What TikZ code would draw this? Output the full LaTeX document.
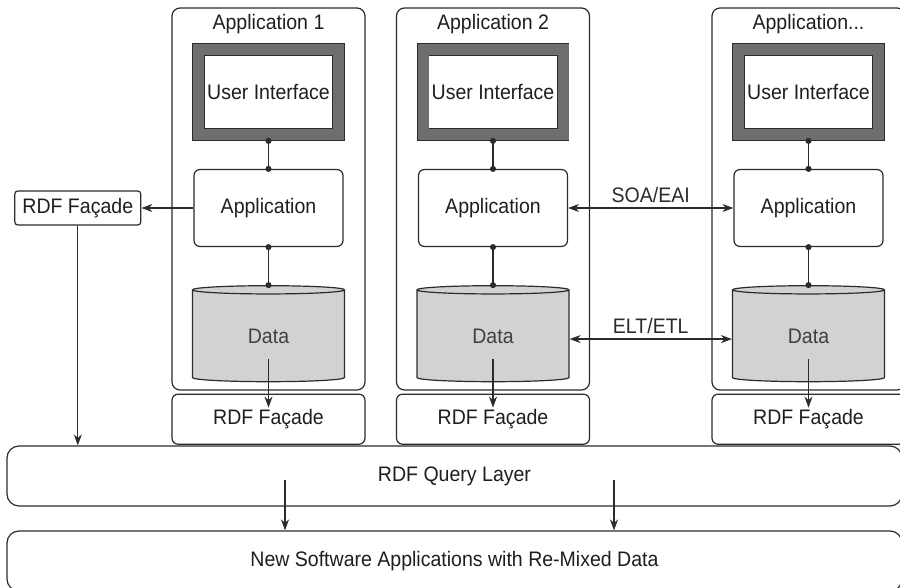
\documentclass[tikz,border=0pt]{standalone}
\usepackage{fontspec}
\setmainfont[FakeStretch=0.93]{Liberation Sans}
\usetikzlibrary{arrows.meta, positioning, shapes.geometric}
\definecolor{linea}{HTML}{2B2B2B}
\definecolor{marco}{HTML}{6E6E6E}
\definecolor{datos}{HTML}{D2D2D2}
\definecolor{texto}{HTML}{1E1E1E}

\begin{document}
\begin{tikzpicture}[
  x=1pt, y=-1pt,
  font=\fontsize{21}{24}\selectfont, text=texto,
  appbox/.style={rectangle, rounded corners=8pt, draw=linea, line width=1.2pt,
                 minimum width=193pt, minimum height=382pt, inner sep=0pt},
  apptitle/.style={inner sep=0pt},
  ui/.style={rectangle, draw=linea, line width=0.9pt, double=marco, double distance=11pt,
             fill=white, minimum width=140pt, minimum height=85pt, inner sep=0pt, outer sep=6.4pt},
  appl/.style={rectangle, rounded corners=6pt, draw=linea, line width=1.2pt,
               minimum width=149pt, minimum height=77pt, inner sep=0pt},
  datastore/.style={cylinder, shape border rotate=90, aspect=0.2, draw=linea, line width=1.2pt,
                    fill=datos, minimum width=152pt, minimum height=96pt, inner sep=0pt,
                    text=texto!85},
  facade/.style={rectangle, rounded corners=6pt, draw=linea, line width=1.2pt,
                 minimum width=193pt, minimum height=50pt, inner sep=0pt},
  facadesm/.style={rectangle, rounded corners=3pt, draw=linea, line width=1.2pt,
                   minimum width=126pt, minimum height=34pt, inner sep=0pt},
  layer/.style={rectangle, rounded corners=12pt, draw=linea, line width=1.2pt,
                minimum width=895pt, minimum height=60pt, inner sep=0pt},
  dotc/.style={{Circle[length=6pt]}-{Circle[length=6pt]}, line width=1.3pt, linea,
               shorten <=-3pt, shorten >=-3pt},
  arr/.style={-{Stealth[length=11pt, width=8pt, inset=3.5pt]}, line width=1.2pt, linea},
  arr2/.style={{Stealth[length=11pt, width=8pt, inset=3.5pt]}-{Stealth[length=11pt, width=8pt, inset=3.5pt]},
               line width=1.2pt, linea},
]
\useasboundingbox (0,0) rectangle (900,588);
\clip (0,0) rectangle (900,588);

% --- Application 1 ---
\node[appbox] (app1) at (268.5,199) {};
\node[apptitle] (tit1) at ([yshift=-17pt]app1.north) {Application 1};
\node[ui] (ui1) at (268.5,92) {User Interface};
\node[appl, below=28pt of ui1] (appl1) {Application};
\node[datastore, below=38pt of appl1] (data1) {Data};
\node[facade, below=3pt of app1] (fac1) {RDF Façade};

% --- Application 2 ---
\node[appbox] (app2) at (493,199) {};
\node[apptitle] (tit2) at ([yshift=-17pt]app2.north) {Application 2};
\node[ui] (ui2) at (493,92) {User Interface};
\node[appl, below=28pt of ui2] (appl2) {Application};
\node[datastore, below=38pt of appl2] (data2) {Data};
\node[facade, below=3pt of app2] (fac2) {RDF Façade};

% --- Application ... ---
\node[appbox] (app3) at (808.5,199) {};
\node[apptitle] (tit3) at ([yshift=-17pt]app3.north) {Application...};
\node[ui] (ui3) at (808.5,92) {User Interface};
\node[appl, below=28pt of ui3] (appl3) {Application};
\node[datastore, below=38pt of appl3] (data3) {Data};
\node[facade, below=3pt of app3] (fac3) {RDF Façade};

% --- Fachada lateral y capas ---
\node[facadesm, left=52pt of appl1] (rdfl) {RDF Façade};
\node[layer] (query) at (454.5,476) {RDF Query Layer};
\node[layer] (newapps) at (454.5,561) {New Software Applications with Re-Mixed Data};

% --- Enlaces internos ---
\draw[dotc] (ui1) -- (appl1);
\draw[dotc] (appl1) -- (data1);
\draw[dotc] (ui2) -- (appl2);
\draw[dotc] (appl2) -- (data2);
\draw[dotc] (ui3) -- (appl3);
\draw[dotc] (appl3) -- (data3);

\draw[arr] ([yshift=-23pt]data1.center) -- ([yshift=-14pt]fac1.north -| data1.center);
\draw[arr] ([yshift=-23pt]data2.center) -- ([yshift=-14pt]fac2.north -| data2.center);
\draw[arr] ([yshift=-23pt]data3.center) -- ([yshift=-14pt]fac3.north -| data3.center);

% --- Integraciones ---
\draw[arr2] (appl2) -- node[above=1pt] {SOA/EAI} (appl3);
\draw[arr2] ([yshift=-3pt]data2.east) -- node[above=1pt] {ELT/ETL} ([yshift=-3pt]data3.west);

\draw[arr] (appl1) -- (rdfl);
\draw[arr] (rdfl.south) -- (rdfl.south |- query.north);

% --- Consulta ---
\coordinate (q1) at (285,480);
\coordinate (q2) at (614,480);
\draw[arr] (q1) -- (q1 |- newapps.north);
\draw[arr] (q2) -- (q2 |- newapps.north);

\end{tikzpicture}
\end{document}
